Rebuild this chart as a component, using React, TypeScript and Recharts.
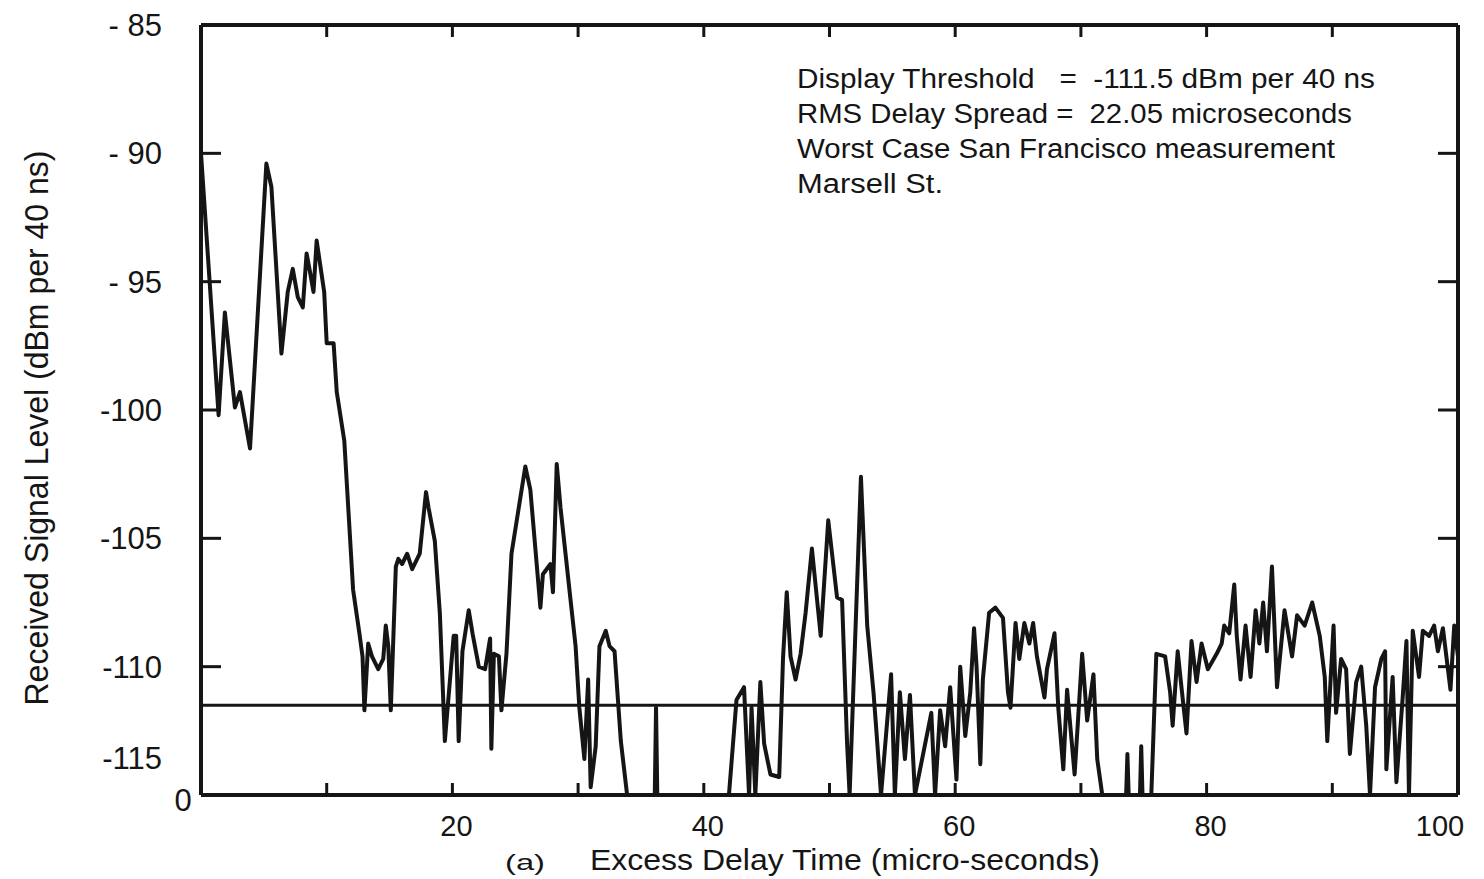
import { Label, Line, LineChart, ReferenceLine, XAxis, YAxis } from 'recharts'

// delay (µs) / received level (dBm per 40 ns).
// Points at -115 sit on the floor of the display (clipped).
const directPath: [number, number][] = [
  [0, -90.0], [1.4, -100.2], [1.9, -96.2], [2.7, -99.9], [3.1, -99.3], [3.9, -101.5],
  [5.2, -90.4], [5.6, -91.3], [6.4, -97.8], [6.9, -95.4], [7.3, -94.5], [7.7, -95.6],
  [8.1, -96.0], [8.4, -93.9], [8.7, -94.7], [8.95, -95.4], [9.2, -93.4], [9.8, -95.4],
  [10.0, -97.4], [10.55, -97.4], [10.8, -99.3], [11.4, -101.2], [12.1, -107.0],
]

const echoes13to36: [number, number][] = [
  [12.6, -108.7], [12.85, -109.6], [13.0, -111.7], [13.3, -109.1], [13.6, -109.6], [14.1, -110.1],
  [14.5, -109.7], [14.7, -108.4], [14.9, -109.2], [15.1, -111.7], [15.5, -106.1], [15.7, -105.8],
  [16.0, -106.0], [16.4, -105.6], [16.8, -106.2], [17.4, -105.6], [17.9, -103.2], [18.1, -103.8],
  [18.6, -105.1], [19.0, -107.9], [19.4, -112.9], [20.1, -108.8], [20.3, -108.8], [20.5, -112.9],
  [20.8, -109.4], [21.3, -107.8], [21.6, -108.7], [22.1, -110.0], [22.6, -110.1], [23.0, -108.9],
  [23.1, -113.2], [23.3, -109.5], [23.7, -109.6], [23.9, -111.7], [24.3, -109.5], [24.7, -105.6],
  [25.8, -102.2], [26.2, -103.1], [27.0, -107.7], [27.2, -106.4], [27.8, -106.0], [28.0, -107.1],
  [28.3, -102.1], [28.6, -103.8], [29.4, -107.4], [29.8, -109.2], [30.1, -111.6], [30.5, -113.6],
  [30.8, -110.5], [31.0, -114.7], [31.4, -113.1], [31.7, -109.2], [32.2, -108.6], [32.5, -109.2],
  [32.9, -109.4], [33.4, -112.9], [33.9, -115], [36.1, -115], [36.2, -111.6], [36.3, -115],
]

const echoes42to62: [number, number][] = [
  [42.0, -115], [42.6, -111.3], [43.2, -110.8], [43.6, -115], [43.8, -111.6], [44.1, -115],
  [44.5, -110.6], [44.8, -113.0], [45.3, -114.2], [46.0, -114.3], [46.3, -109.7], [46.6, -107.1],
  [46.9, -109.6], [47.3, -110.5], [47.7, -109.5], [48.1, -107.9], [48.6, -105.4], [49.3, -108.8],
  [49.9, -104.3], [50.6, -107.3], [51.0, -107.4], [51.4, -113.0], [51.6, -115], [52.5, -102.6],
  [53.0, -108.4], [53.5, -111.0], [53.7, -112.3], [54.1, -115], [54.9, -110.3], [55.2, -115],
  [55.6, -111.0], [56.0, -113.6], [56.4, -111.1], [56.8, -115], [58.1, -111.8], [58.4, -115],
  [58.8, -111.7], [59.2, -113.1], [59.6, -110.8], [60.1, -114.4], [60.4, -110.0], [60.8, -112.7],
  [61.2, -111.0], [61.5, -108.5], [61.7, -110.0],
]

const echoes62to76: [number, number][] = [
  [62.0, -113.8], [62.2, -110.5], [62.7, -107.9], [63.2, -107.7], [63.8, -108.1], [64.2, -111.0],
  [64.4, -111.6], [64.8, -108.3], [65.1, -109.7], [65.5, -108.3], [65.9, -109.1], [66.2, -108.3],
  [66.5, -109.6], [67.1, -111.2], [67.3, -110.1], [67.9, -108.7], [68.2, -111.6], [68.6, -114.0],
  [68.9, -110.9], [69.5, -114.2], [70.1, -109.5], [70.5, -112.1], [71.0, -110.3], [71.3, -113.6],
  [71.7, -115], [73.6, -115], [73.7, -113.4], [73.8, -115], [74.7, -115], [74.8, -113.1],
  [74.9, -115], [75.6, -115],
]

const echoes76to100: [number, number][] = [
  [76.0, -109.5], [76.7, -109.6], [77.1, -111.0], [77.3, -112.3], [77.7, -109.4], [78.0, -110.8],
  [78.4, -112.6], [78.8, -109.0], [79.2, -110.6], [79.6, -109.1], [80.1, -110.1], [80.8, -109.5],
  [81.2, -109.1], [81.4, -108.4], [81.8, -108.7], [82.2, -106.8], [82.4, -108.8], [82.7, -110.5],
  [83.1, -108.4], [83.5, -110.4], [83.9, -107.8], [84.2, -109.1], [84.5, -107.5], [84.8, -109.4],
  [85.2, -106.1], [85.6, -110.8], [86.2, -107.8], [86.8, -109.6], [87.2, -108.0], [87.8, -108.4],
  [88.4, -107.5], [89.0, -108.8], [89.4, -110.4], [89.6, -112.9], [90.1, -108.4], [90.3, -111.8],
  [90.7, -109.7], [91.1, -110.1], [91.4, -113.4], [91.9, -110.6], [92.3, -110.0], [92.7, -112.3],
  [93.0, -115], [93.4, -110.8], [93.9, -109.7], [94.2, -109.4], [94.3, -114.0], [94.8, -110.4],
  [95.1, -114.5], [95.6, -111.2], [95.9, -109.0], [96.1, -115], [96.4, -108.6], [96.9, -110.4],
  [97.2, -108.6], [97.7, -108.8], [98.1, -108.4], [98.4, -109.4], [98.8, -108.5], [99.2, -110.1],
  [99.4, -110.9], [99.7, -108.4], [100, -109.6],
]

const thresholdDbm = -111.5

const xTicks = [0, 20, 40, 60, 80, 100]
const xMinorTicks = [10, 20, 30, 40, 50, 60, 70, 80, 90]
const yTicks = [-115, -110, -105, -100, -95, -90, -85]
const yTickLabels = ['-115', '-110', '-105', '-100', '- 95', '- 90', '- 85']
const yInnerTicks = [-110, -105, -100, -95, -90]

const notes = [
  'Display Threshold   =  -111.5 dBm per 40 ns',
  'RMS Delay Spread =  22.05 microseconds',
  'Worst Case San Francisco measurement',
  'Marsell St.',
]

const data = [...directPath, ...echoes13to36, ...echoes42to62, ...echoes62to76, ...echoes76to100]
  .map(([t, level]) => ({ t, level }))

const FONT = '"Liberation Sans", Arial, sans-serif'
const INK = '#151515'
const PLOT_LEFT = 201
const frame = { stroke: INK, strokeWidth: 4 }
const tickMark = { stroke: INK, strokeWidth: 3 }
const X_DOMAIN: [number, number] = [0, 100]
const Y_DOMAIN: [number, number] = [-115, -85]

function YTick(props: any) {
  const { y, payload } = props
  const v = payload.value as number
  const label = yTickLabels[yTicks.indexOf(v)]
  // the -115 label sits well above its tick in the original
  const lift = v === -115 ? -37 : 0
  return (
    <g>
      {yInnerTicks.includes(v) && (
        <line x1={PLOT_LEFT} x2={PLOT_LEFT + 20} y1={y} y2={y} stroke={INK} strokeWidth={3} />
      )}
      <text x={162} y={y + lift} dy="0.35em" textAnchor="end" fontSize={31} fill={INK} fontFamily={FONT}>
        {label}
      </text>
    </g>
  )
}

function XTick(props: any) {
  const { x, payload } = props
  const v = payload.value as number
  if (v === 0) {
    return (
      <text x={x - 18} y={800} dy="0.35em" textAnchor="middle" fontSize={31} fill={INK} fontFamily={FONT}>0</text>
    )
  }
  const shift = v === 100 ? -18 : 4
  return (
    <text x={x + shift} y={826} dy="0.35em" textAnchor="middle" fontSize={29} fill={INK} fontFamily={FONT}>
      {v}
    </text>
  )
}

// inner tick marks only, no labels
const NoLabel = () => <g />

const noteWidths = [578, 555, 538, 146]

export default function App() {
  return (
    <div style={{ position: 'absolute', left: 0, top: 0, width: 1484, height: 879, background: '#fff' }}>
      <LineChart width={1484} height={879} data={data} margin={{ top: 25, right: 26, bottom: 0, left: 0 }}>
        <XAxis
          xAxisId="b"
          dataKey="t"
          type="number"
          domain={X_DOMAIN}
          ticks={xTicks}
          interval={0}
          allowDataOverflow
          height={84}
          axisLine={frame}
          tickLine={false}
          tick={XTick}
        >
          <Label
            content={() => (
              <g>
                <text x={505} y={870} fontSize={22} fill={INK} fontFamily={FONT} textLength={40} lengthAdjust="spacingAndGlyphs">
                  (a)
                </text>
                <text x={590} y={870} fontSize={30} fill={INK} fontFamily={FONT} textLength={510} lengthAdjust="spacingAndGlyphs">
                  Excess Delay Time (micro-seconds)
                </text>
              </g>
            )}
          />
        </XAxis>
        <XAxis
          xAxisId="bm"
          dataKey="t"
          type="number"
          domain={X_DOMAIN}
          allowDataOverflow
          ticks={xMinorTicks}
          interval={0}
          mirror
          axisLine={false}
          tick={NoLabel}
          tickSize={12}
          tickLine={tickMark}
        />
        <XAxis
          xAxisId="t"
          dataKey="t"
          orientation="top"
          type="number"
          domain={X_DOMAIN}
          allowDataOverflow
          ticks={xMinorTicks}
          interval={0}
          mirror
          axisLine={frame}
          tick={NoLabel}
          tickSize={12}
          tickLine={tickMark}
        >
          <Label
            content={() => (
              <g>
                {notes.map((line, i) => (
                  <text
                    key={i}
                    x={797}
                    y={88 + i * 35}
                    fontSize={27}
                    fill={INK}
                    fontFamily={FONT}
                    xmlSpace="preserve"
                    style={{ whiteSpace: 'pre' }}
                    textLength={noteWidths[i]}
                    lengthAdjust="spacingAndGlyphs"
                  >
                    {line}
                  </text>
                ))}
              </g>
            )}
          />
        </XAxis>
        <YAxis
          yAxisId="l"
          dataKey="level"
          type="number"
          domain={Y_DOMAIN}
          ticks={yTicks}
          interval={0}
          allowDataOverflow
          width={PLOT_LEFT}
          axisLine={frame}
          tickLine={false}
          tick={YTick}
        >
          <Label
            content={() => (
              <text
                transform="translate(36 428) rotate(-90)"
                dy="0.35em"
                textAnchor="middle"
                fontSize={33}
                fill={INK}
                fontFamily={FONT}
                textLength={555}
                lengthAdjust="spacingAndGlyphs"
              >
                Received Signal Level (dBm per 40 ns)
              </text>
            )}
          />
        </YAxis>
        <YAxis
          yAxisId="r"
          dataKey="level"
          orientation="right"
          type="number"
          domain={Y_DOMAIN}
          allowDataOverflow
          ticks={yInnerTicks}
          interval={0}
          mirror
          axisLine={frame}
          tick={NoLabel}
          tickSize={20}
          tickLine={tickMark}
        />
        <ReferenceLine xAxisId="b" yAxisId="l" y={thresholdDbm} stroke={INK} strokeWidth={3} />
        <Line
          xAxisId="b"
          yAxisId="l"
          dataKey="level"
          type="linear"
          stroke={INK}
          strokeWidth={4}
          strokeLinejoin="round"
          dot={false}
          isAnimationActive={false}
        />
      </LineChart>
    </div>
  )
}
